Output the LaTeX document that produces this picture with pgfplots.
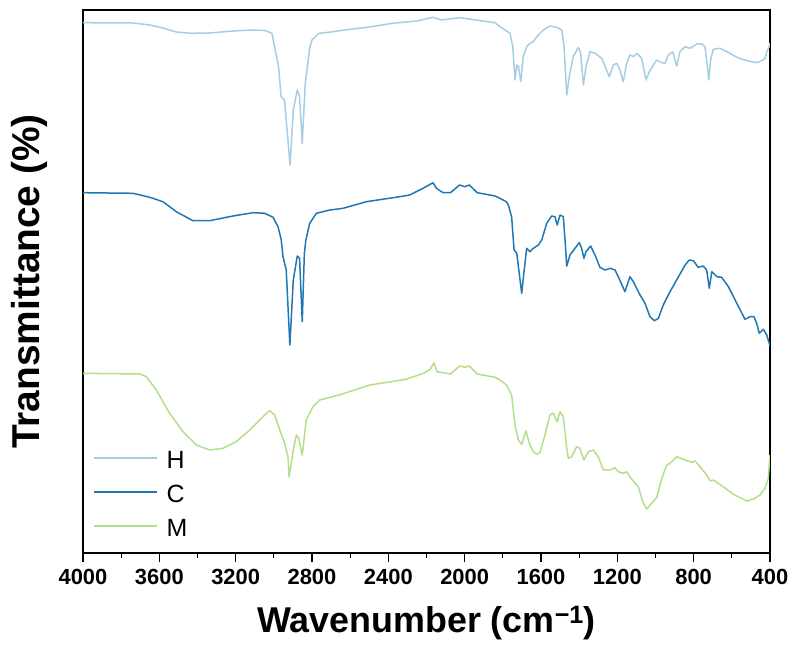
\documentclass[border=0pt]{standalone}
\usepackage{fontspec}
\setmainfont{Liberation Sans}
\usepackage{pgfplots}
\usepackage{pgfplotstable}
\pgfplotsset{compat=1.18}
\definecolor{cH}{RGB}{166,206,227}
\definecolor{cC}{RGB}{31,120,180}
\definecolor{cM}{RGB}{178,223,138}

\pgfplotstableread{
w T
4000 530.3
3738 530.0
3650 528.0
3581 525.0
3511 521.0
3431 519.7
3336 520.0
3214 522.0
3109 523.0
3048 522.5
3010 519.7
2975 486.3
2962 456.3
2944 453.0
2915 388.0
2898 443.0
2877 463.0
2865 456.3
2851 409.7
2835 470.0
2812 505.0
2800 513.0
2763 519.7
2700 521.0
2658 522.3
2500 526.0
2378 529.7
2250 532.0
2167 535.7
2121 533.0
2027 535.3
1841 530.3
1815 526.3
1762 519.7
1748 506.3
1736 473.0
1727 488.0
1718 486.3
1706 471.3
1693 496.3
1675 506.3
1658 509.7
1640 511.3
1622 516.3
1588 523.0
1553 527.0
1518 525.7
1491 523.0
1479 506.3
1465 458.0
1452 476.3
1431 496.3
1404 505.7
1392 499.7
1378 468.0
1364 486.3
1343 501.3
1317 499.7
1282 494.7
1242 476.3
1221 488.0
1203 489.7
1186 483.0
1169 471.3
1151 489.7
1134 498.0
1116 496.3
1098 499.7
1072 494.7
1050 473.0
1032 481.3
1011 488.0
994 493.0
967 490.3
950 489.7
933 498.0
910 501.3
889 487.0
872 501.3
845 506.3
819 504.7
784 509.0
758 509.0
741 506.3
732 493.0
720 473.0
711 493.0
697 503.7
662 504.7
610 499.7
574 495.7
522 492.3
470 490.3
443 492.3
426 494.7
417 501.3
404 506.3
400 510.0
}\dataH

\pgfplotstableread{
w T
4000 360.3
3738 359.7
3650 355.7
3581 351.3
3511 341.3
3424 332.3
3336 332.3
3214 337.0
3109 340.3
3048 339.7
3004 335.7
2978 326.3
2961 313.0
2952 296.3
2935 283.0
2916 208.0
2898 273.0
2877 297.0
2865 294.7
2851 231.3
2840 299.7
2832 313.0
2812 329.7
2777 339.7
2707 343.0
2637 344.7
2515 351.3
2340 356.3
2288 358.0
2218 364.7
2166 370.3
2148 364.7
2113 360.3
2074 360.3
2027 368.0
1999 366.3
1976 368.0
1934 360.3
1841 357.0
1815 354.7
1782 351.3
1771 348.0
1754 336.3
1741 303.0
1727 299.7
1701 259.7
1689 281.3
1675 304.7
1658 301.3
1640 304.7
1614 308.0
1596 313.0
1570 329.7
1544 337.0
1527 336.3
1515 328.0
1500 338.0
1483 336.3
1474 313.0
1465 287.0
1448 298.0
1422 304.7
1399 310.3
1387 304.7
1375 294.7
1364 301.3
1340 307.0
1317 298.0
1291 285.7
1265 283.0
1238 284.7
1212 283.0
1195 276.3
1160 261.3
1134 276.3
1116 271.3
1081 258.0
1055 249.7
1029 236.3
1006 232.3
985 234.7
959 248.0
924 261.3
889 273.0
845 288.0
823 293.0
802 292.3
776 285.7
750 287.0
732 283.0
718 264.7
705 281.3
679 276.3
653 275.7
618 266.3
574 249.7
531 233.7
505 236.3
484 236.3
470 229.7
456 219.7
435 223.7
417 218.0
404 209.7
400 207.0
}\dataC

\pgfplotstableread{
w T
4000 179.7
3703 179.0
3668 176.3
3616 163.0
3546 139.7
3476 121.3
3406 108.0
3336 103.0
3266 104.7
3197 111.3
3126 123.0
3057 136.3
3022 142.3
2995 138.0
2969 123.0
2943 109.7
2926 96.3
2920 76.3
2898 103.0
2882 118.0
2870 115.0
2851 98.0
2830 133.0
2795 146.3
2760 153.0
2658 158.0
2496 168.0
2307 173.7
2215 179.7
2180 183.7
2161 190.3
2145 181.3
2074 179.0
2027 187.0
1999 185.7
1976 187.0
1934 179.0
1841 175.7
1815 173.0
1780 168.0
1754 158.0
1736 128.0
1719 113.0
1701 108.7
1679 122.0
1658 108.0
1640 101.3
1622 98.7
1605 100.7
1579 118.0
1553 138.0
1536 139.7
1515 131.3
1500 141.3
1483 136.3
1465 104.7
1457 94.7
1439 96.3
1413 106.3
1396 104.7
1375 93.0
1352 101.3
1326 103.0
1300 96.3
1273 83.0
1238 83.0
1212 85.3
1195 81.3
1169 79.7
1151 81.3
1134 76.3
1107 69.7
1090 66.3
1067 51.3
1046 44.0
1020 49.7
994 55.3
967 74.7
941 88.0
924 89.7
889 96.3
845 93.0
810 90.7
793 92.0
767 86.3
732 78.0
714 72.0
697 73.0
645 66.3
592 58.7
522 52.0
487 54.0
452 58.0
426 64.7
409 74.7
400 98.0
}\dataM

\begin{document}
\begin{tikzpicture}
\begin{axis}[
  name=ax,
  scale only axis,
  width=687bp, height=543bp,
  x dir=reverse,
  xmin=400, xmax=4000,
  ymin=0, ymax=543,
  axis line style={line width=1.1bp, black},
  xtick={400,800,...,4000},
  minor x tick num=1,
  xtick pos=bottom,
  tick align=outside,
  major tick length=9bp,
  minor tick length=5bp,
  every tick/.style={black, line width=1.1bp},
  ytick=\empty,
  scaled x ticks=false,
  /pgf/number format/1000 sep={},
  /pgf/number format/assume math mode=true,
  xticklabel style={font=\fontsize{22}{26}\selectfont\bfseries, yshift=-4bp},
  xlabel={Wavenumber (cm\textsuperscript{−1})},
  ylabel={Transmittance (\%)},
  xlabel style={font=\fontsize{36}{42}\selectfont\bfseries, at={(axis description cs:0.5,0)}, anchor=center, yshift=-70bp},
  ylabel style={font=\fontsize{39}{46}\selectfont\bfseries, at={(axis description cs:-0.0786,0.5)}, anchor=center, rotate=0},
  legend style={draw=none, fill=none, at={(rel axis cs:0.0146,0.2066)}, anchor=north west,
    font=\fontsize{25}{30}\selectfont, inner sep=0pt, column sep=9bp,
    nodes={inner ysep=7bp, inner xsep=0bp, text height=20bp, text depth=0bp}},
  legend cell align=left,
  legend image code/.code={\draw[#1] (0bp,0bp) -- (63bp,0bp);},
]
\addplot[cH, line width=1.5bp, line join=round] table[x=w,y=T]{\dataH};
\addlegendentry{H}
\addplot[cC, line width=1.5bp, line join=round] table[x=w,y=T]{\dataC};
\addlegendentry{C}
\addplot[cM, line width=1.5bp, line join=round] table[x=w,y=T]{\dataM};
\addlegendentry{M}
\end{axis}
\pgfresetboundingbox
\path[use as bounding box] ([xshift=-83bp,yshift=-96bp]ax.south west) rectangle ([xshift=25bp,yshift=10bp]ax.north east);
\end{tikzpicture}
\end{document}
